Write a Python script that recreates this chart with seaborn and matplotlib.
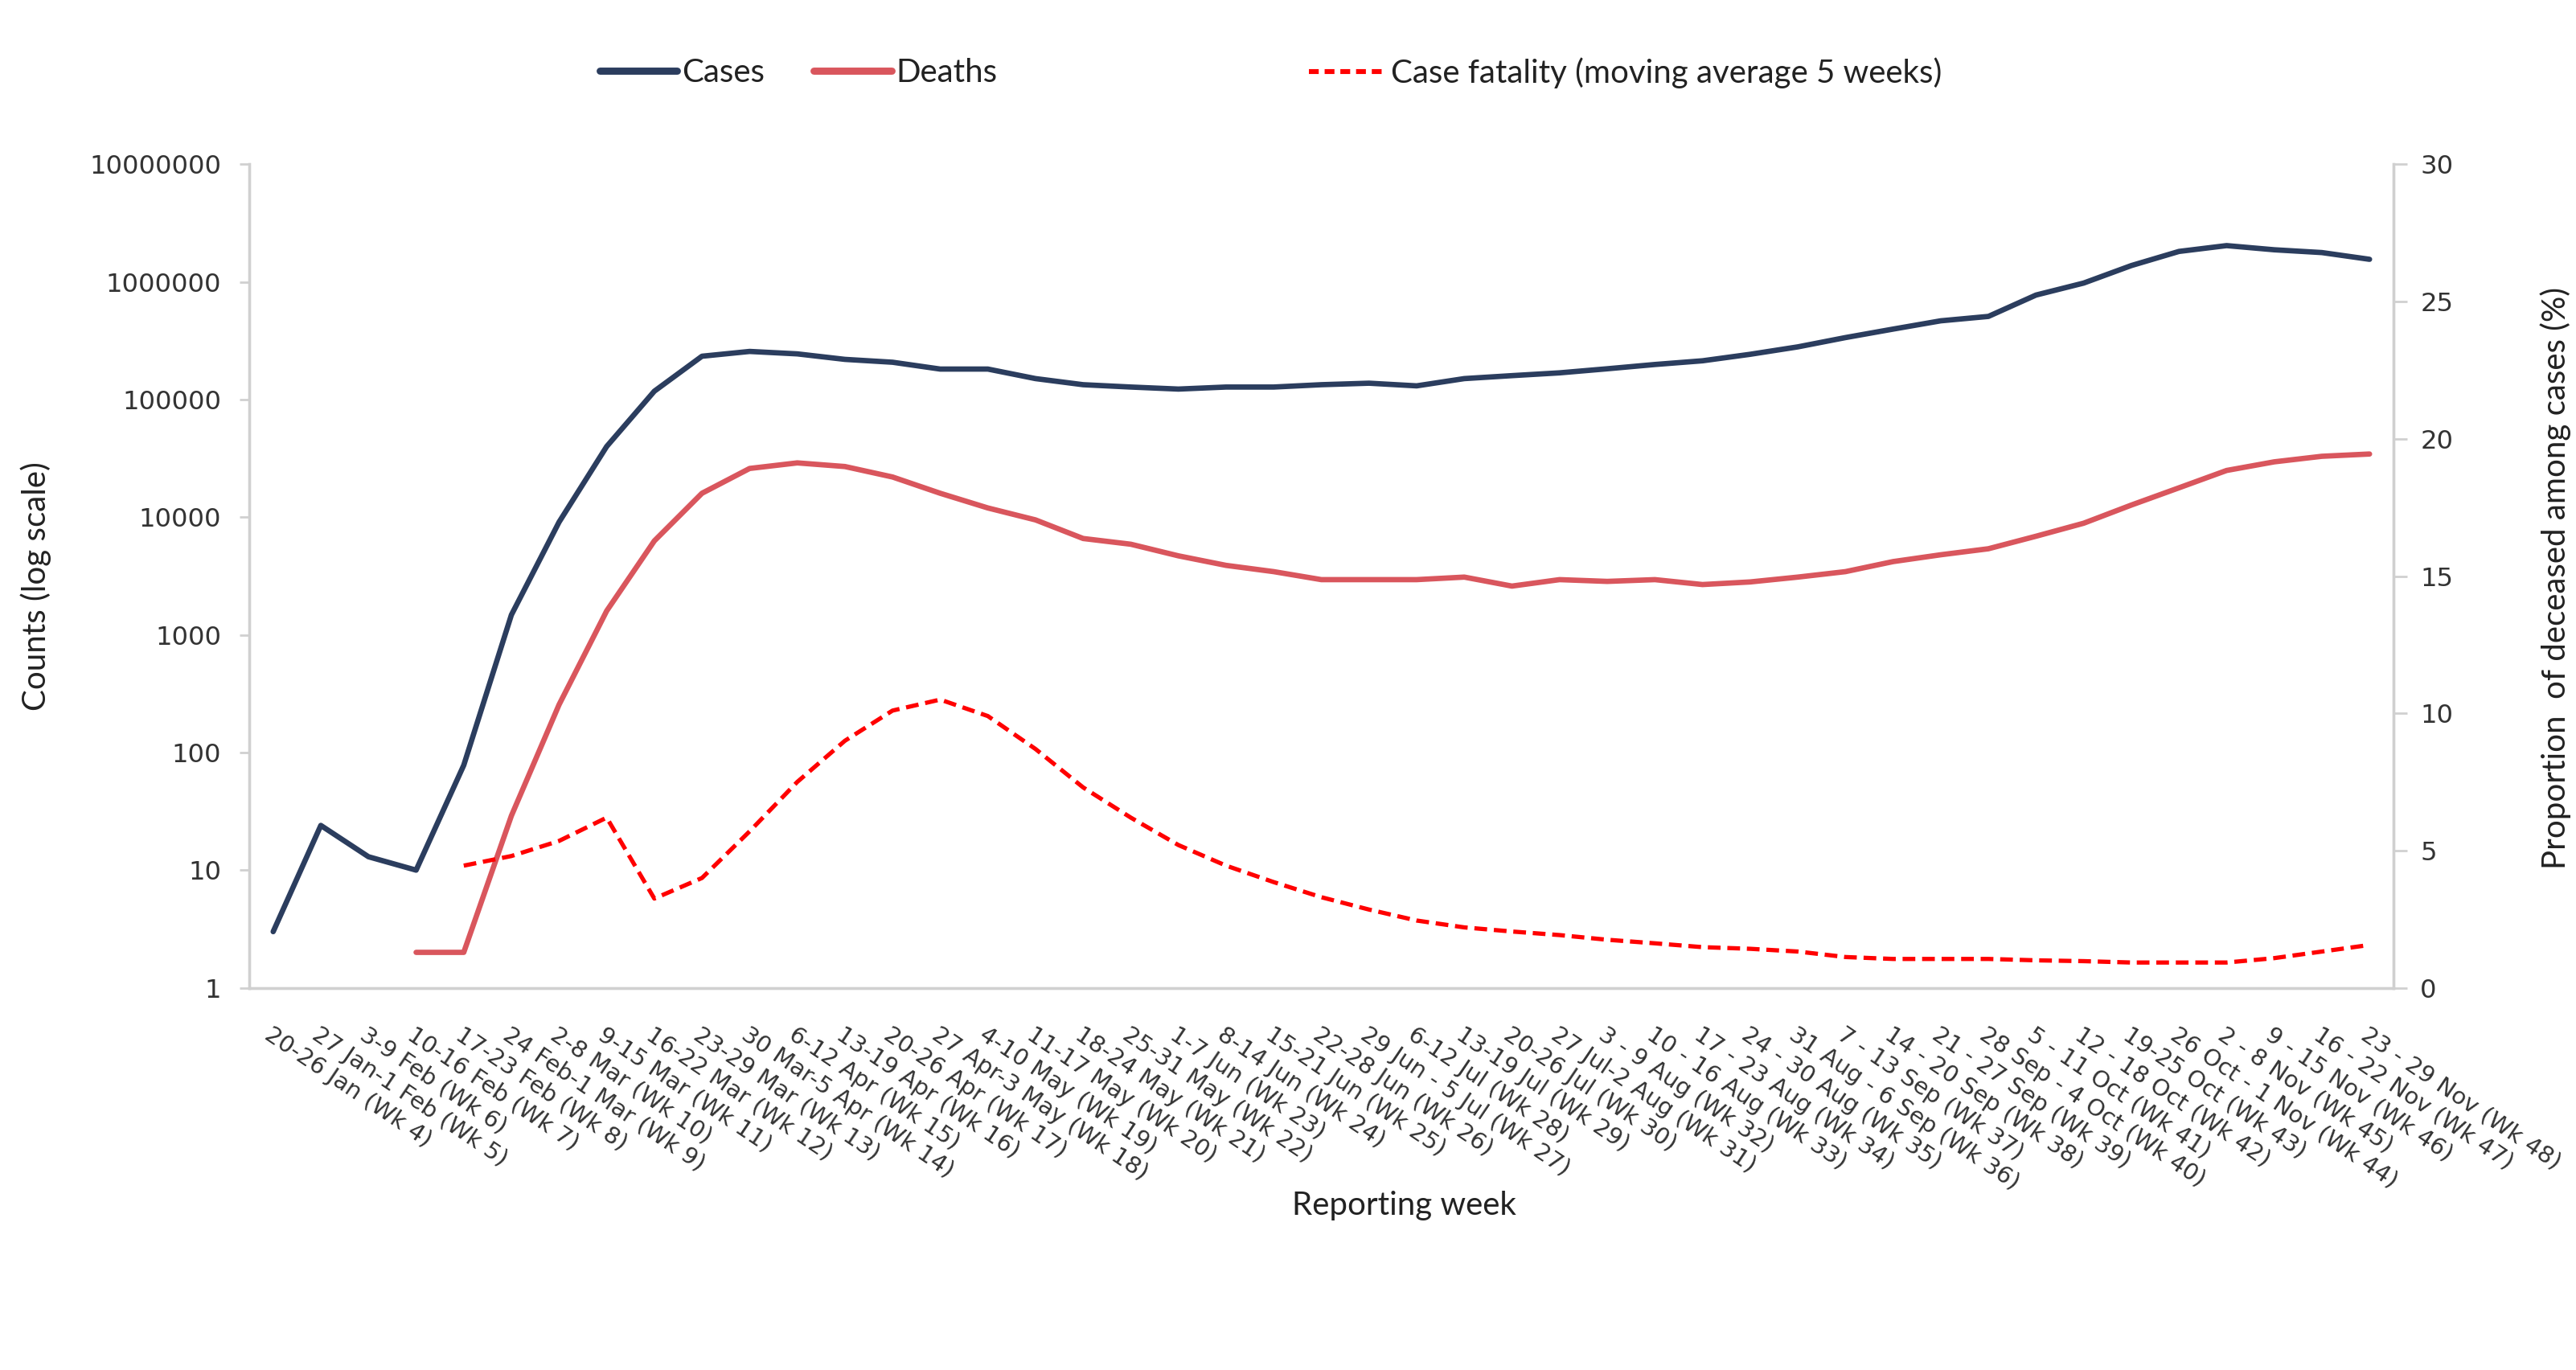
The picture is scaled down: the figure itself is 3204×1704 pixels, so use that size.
import matplotlib
matplotlib.use("Agg")
import matplotlib.pyplot as plt
from matplotlib.lines import Line2D
from matplotlib.ticker import FixedLocator, FuncFormatter
import numpy as np
import pandas as pd
import seaborn as sns

# reporting weeks (Wk 4 - Wk 48)
weeks = [
    "20-26 Jan (Wk 4)", "27 Jan-1 Feb (Wk 5)", "3-9 Feb (Wk 6)", "10-16 Feb (Wk 7)",
    "17-23 Feb (Wk 8)", "24 Feb-1 Mar (Wk 9)", "2-8 Mar (Wk 10)", "9-15 Mar (Wk 11)",
    "16-22 Mar (Wk 12)", "23-29 Mar (Wk 13)", "30 Mar-5 Apr (Wk 14)", "6-12 Apr (Wk 15)",
    "13-19 Apr (Wk 16)", "20-26 Apr (Wk 17)", "27 Apr-3 May (Wk 18)", "4-10 May (Wk 19)",
    "11-17 May (Wk 20)", "18-24 May (Wk 21)", "25-31 May (Wk 22)", "1-7 Jun (Wk 23)",
    "8-14 Jun (Wk 24)", "15-21 Jun (Wk 25)", "22-28 Jun (Wk 26)", "29 Jun - 5 Jul (Wk 27)",
    "6-12 Jul (Wk 28)", "13-19 Jul (Wk 29)", "20-26 Jul (Wk 30)", "27 Jul-2 Aug (Wk 31)",
    "3 - 9 Aug (Wk 32)", "10 - 16 Aug (Wk 33)", "17 - 23 Aug (Wk 34)", "24 - 30 Aug (Wk 35)",
    "31 Aug - 6 Sep (Wk 36)", "7 - 13 Sep (Wk 37)", "14 - 20 Sep (Wk 38)", "21 - 27 Sep (Wk 39)",
    "28 Sep - 4 Oct (Wk 40)", "5 - 11 Oct (Wk 41)", "12 - 18 Oct (Wk 42)", "19-25 Oct (Wk 43)",
    "26 Oct - 1 Nov (Wk 44)", "2 - 8 Nov (Wk 45)", "9 - 15 Nov (Wk 46)", "16 - 22 Nov (Wk 47)",
    "23 - 29 Nov (Wk 48)",
]

cases = [
    3, 24, 13, 10, 78, 1480, 9100, 40000, 118000, 234000, 257000, 245000,
    220000, 208000, 182000, 182000, 151000, 134000, 128000, 123000, 128000, 128000,
    134000, 138000, 131000, 151000, 160000, 169000, 183000, 199000, 214000, 243000,
    281000, 337000, 398000, 468000, 510000, 775000, 980000, 1380000, 1820000, 2040000,
    1880000, 1780000, 1560000,
]

deaths = [
    np.nan, np.nan, np.nan, 2, 2, 29, 255, 1600, 6300, 16000, 26000, 29000,
    27000, 22000, 16000, 12000, 9500, 6600, 5900, 4700, 3900, 3450,
    2950, 2950, 2950, 3100, 2600, 2950, 2850, 2950, 2680, 2820,
    3100, 3450, 4200, 4800, 5400, 6900, 8900, 12700, 17800, 25000,
    29600, 33000, 34500,
]

# case fatality, moving average 5 weeks (%)
cfr = [
    np.nan, np.nan, np.nan, np.nan, 4.45, 4.8, 5.35, 6.2, 3.25, 4.0, 5.7, 7.5,
    9.0, 10.1, 10.5, 9.9, 8.7, 7.3, 6.2, 5.2, 4.45, 3.85,
    3.3, 2.85, 2.45, 2.2, 2.05, 1.92, 1.75, 1.62, 1.48, 1.42,
    1.32, 1.12, 1.05, 1.05, 1.05, 1.0, 0.97, 0.92, 0.92, 0.92,
    1.08, 1.32, 1.56,
]

df = pd.DataFrame({"idx": np.arange(len(weeks)), "week": weeks,
                   "cases": cases, "deaths": deaths, "cfr": cfr})

sns.set_style("white")
plt.rcParams["font.family"] = ["DejaVu Sans"]

c_cases = "#2B3D5E"
c_deaths = "#D9565D"
c_cfr = "#FF0000"
c_axis = "#D0D0D0"
c_text = "#333333"

fig = plt.figure(figsize=(16.02, 8.52), dpi=200)
ax = fig.add_axes([0.0968, 0.279, 0.8323, 0.601])

sns.lineplot(data=df, x="idx", y="cases", ax=ax, color=c_cases, linewidth=2.4)
sns.lineplot(data=df, x="idx", y="deaths", ax=ax, color=c_deaths, linewidth=2.4)
ax.set_yscale("log")
ax.set_ylim(1, 1e7)
ax.set_xlim(-0.5, len(weeks) - 0.5)

ax2 = ax.twinx()
sns.lineplot(data=df, x="idx", y="cfr", ax=ax2, color=c_cfr, linewidth=1.9,
             linestyle=(0, (3, 1.6)))
ax2.set_ylim(0, 30)
ax2.set_yticks(range(0, 31, 5))

# y axis formatting
ax.yaxis.set_major_locator(FixedLocator([10 ** k for k in range(8)]))
ax.yaxis.set_major_formatter(FuncFormatter(lambda v, p: f"{int(round(v))}"))
ax.yaxis.set_minor_locator(FixedLocator([]))
ax.tick_params(axis="y", which="major", length=4.5, width=1, color=c_axis,
               labelsize=11.6, labelcolor=c_text, pad=8)
ax2.tick_params(axis="y", length=6, width=1, color=c_axis,
                labelsize=11.6, labelcolor=c_text, pad=6)

# x axis: labels at centres, ticks at category boundaries
ax.set_xticks(np.arange(len(weeks)))
ax.set_xticklabels(weeks, rotation=-34, ha="left", va="top",
                   rotation_mode="anchor", fontsize=10.5, color=c_text)
ax.set_xticks(np.arange(-0.5, len(weeks), 1.0), minor=True)
ax.tick_params(axis="x", which="major", length=0, pad=16)
ax.tick_params(axis="x", which="minor", length=7, width=1, color=c_axis)

for a in (ax, ax2):
    a.set_xlabel("")
    a.set_ylabel("")
    a.spines["top"].set_visible(False)
    for s in ("left", "right", "bottom"):
        a.spines[s].set_color(c_axis)
        a.spines[s].set_linewidth(1.2)
    a.grid(False)

lab_font = {"family": ["Lato", "DejaVu Sans"], "size": 14.5, "color": "#222222"}
fig.text(0.014, 0.572, "Counts (log scale)", rotation=90, ha="center", va="center", **lab_font)
fig.text(0.992, 0.578, "Proportion  of deceased among cases (%)", rotation=90,
         ha="center", va="center", **lab_font)
fig.text(0.545, 0.12, "Reporting week", ha="center", va="center", **lab_font)

h1 = [Line2D([], [], color=c_cases, linewidth=3.2), Line2D([], [], color=c_deaths, linewidth=3.2)]
h2 = [Line2D([], [], color=c_cfr, linewidth=2.2, linestyle=(0, (2, 1.2)))]
leg_kw = dict(frameon=False, handlelength=2.4, handletextpad=0.15, columnspacing=1.5,
              prop={"family": ["Lato", "DejaVu Sans"], "size": 14.5}, labelcolor="#222222")
fig.legend(h1, ["Cases", "Deaths"], loc="center", bbox_to_anchor=(0.31, 0.947), ncol=2, **leg_kw)
fig.legend(h2, ["Case fatality (moving average 5 weeks)"], loc="center",
           bbox_to_anchor=(0.631, 0.947), **leg_kw)

fig.savefig("out.png", dpi=200, facecolor="white")
